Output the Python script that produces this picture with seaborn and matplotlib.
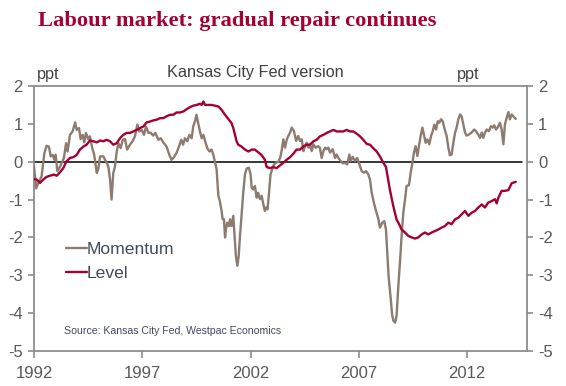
import matplotlib
matplotlib.use("Agg")
import matplotlib.pyplot as plt
import seaborn as sns
import pandas as pd

# Momentum (decimal year, ppt)
mom_t = [1992.0, 1992.1, 1992.2, 1992.35, 1992.48, 1992.58, 1992.69, 1992.77, 1992.86, 1992.94,
         1993.0, 1993.08, 1993.17, 1993.28, 1993.38, 1993.48, 1993.55, 1993.66, 1993.78, 1993.9,
         1993.97, 1994.08, 1994.15, 1994.25, 1994.32, 1994.4, 1994.5, 1994.58, 1994.69, 1994.78,
         1994.9, 1994.97, 1995.05, 1995.2, 1995.32, 1995.43, 1995.51, 1995.58, 1995.66, 1995.74,
         1995.82, 1995.9, 1996.0, 1996.1, 1996.2, 1996.3, 1996.43, 1996.55, 1996.66, 1996.77,
         1996.86, 1996.97, 1997.08, 1997.17, 1997.28, 1997.38, 1997.5, 1997.6, 1997.74, 1997.85,
         1997.97, 1998.12, 1998.25, 1998.35, 1998.46, 1998.58, 1998.69, 1998.8, 1998.88, 1998.97,
         1999.08, 1999.17, 1999.28, 1999.35, 1999.43, 1999.5, 1999.58, 1999.66, 1999.74, 1999.82,
         1999.9, 2000.0, 2000.1, 2000.2, 2000.28, 2000.35, 2000.43, 2000.51, 2000.58, 2000.66,
         2000.71, 2000.77, 2000.82, 2000.86, 2000.92, 2001.0, 2001.05, 2001.12, 2001.2, 2001.25,
         2001.32, 2001.39, 2001.45, 2001.51, 2001.59, 2001.66, 2001.74, 2001.82, 2001.92, 2002.0,
         2002.05, 2002.12, 2002.2, 2002.28, 2002.35, 2002.43, 2002.51, 2002.59, 2002.66, 2002.71,
         2002.78, 2002.85, 2002.92, 2003.0, 2003.08, 2003.17, 2003.28, 2003.36, 2003.43, 2003.51,
         2003.59, 2003.67, 2003.74, 2003.82, 2003.9, 2004.0, 2004.1, 2004.2, 2004.28, 2004.36,
         2004.44, 2004.51, 2004.59, 2004.67, 2004.74, 2004.82, 2004.9, 2005.0, 2005.13, 2005.2,
         2005.28, 2005.36, 2005.44, 2005.51, 2005.59, 2005.67, 2005.79, 2005.9, 2005.97, 2006.05,
         2006.16, 2006.25, 2006.36, 2006.46, 2006.56, 2006.62, 2006.71, 2006.82, 2006.92, 2007.02,
         2007.13, 2007.24, 2007.33, 2007.43, 2007.51, 2007.59, 2007.69, 2007.79, 2007.9, 2007.97,
         2008.08, 2008.17, 2008.25, 2008.31, 2008.37, 2008.47, 2008.53, 2008.59, 2008.67, 2008.74,
         2008.82, 2008.9, 2008.97, 2009.05, 2009.13, 2009.2, 2009.31, 2009.39, 2009.47, 2009.54,
         2009.62, 2009.7, 2009.77, 2009.85, 2009.93, 2010.0, 2010.08, 2010.16, 2010.25, 2010.33,
         2010.41, 2010.48, 2010.56, 2010.64, 2010.71, 2010.79, 2010.87, 2010.94, 2011.05, 2011.13,
         2011.2, 2011.28, 2011.36, 2011.44, 2011.51, 2011.59, 2011.67, 2011.74, 2011.82, 2011.9,
         2011.97, 2012.08, 2012.2, 2012.32, 2012.4, 2012.51, 2012.59, 2012.67, 2012.74, 2012.82,
         2012.9, 2013.0, 2013.1, 2013.18, 2013.25, 2013.33, 2013.4, 2013.51, 2013.59, 2013.67,
         2013.74, 2013.82, 2013.9, 2013.97, 2014.05, 2014.13, 2014.24]
mom_v = [-0.12, -0.70, -0.56, -0.39, 0.23, 0.42, 0.40, 0.14, 0.18, 0.05,
         0.18, -0.25, -0.17, -0.03, 0.10, 0.49, 0.27, 0.71, 0.80, 1.04,
         0.84, 0.89, 0.60, 0.71, 0.51, 0.76, 0.60, 0.67, 0.36, 0.18,
         -0.30, -0.19, 0.14, 0.14, 0.01, -0.12, -0.47, -1.00, -0.30, -0.12,
         0.27, 0.49, 0.36, 0.58, 0.60, 0.32, 0.45, 0.54, 0.67, 0.98,
         0.80, 0.84, 0.71, 0.93, 0.76, 0.77, 0.69, 0.76, 0.58, 0.62,
         0.51, 0.40, 0.18, 0.05, 0.12, 0.23, 0.40, 0.58, 0.45, 0.62,
         0.54, 0.71, 0.62, 0.93, 1.06, 1.24, 1.02, 0.80, 0.62, 0.71,
         0.54, 0.36, 0.27, 0.32, 0.18, 0.00, -0.20, -0.90, -1.04, -1.30,
         -1.52, -1.52, -2.00, -1.79, -1.61, -1.70, -1.52, -1.70, -1.43, -1.87,
         -2.49, -2.75, -2.49, -1.96, -1.35, -0.82, -0.33, -0.18, -0.16, -0.33,
         -0.69, -0.73, -0.64, -0.95, -0.82, -0.99, -0.90, -1.13, -1.30, -1.21,
         -1.26, -0.82, -0.33, -0.20, -0.07, -0.03, 0.00, 0.10, 0.28, 0.59,
         0.37, 0.59, 0.68, 0.77, 0.90, 0.81, 0.55, 0.68, 0.55, 0.59,
         0.28, 0.41, 0.50, 0.37, 0.46, 0.28, 0.46, 0.37, 0.41, 0.37,
         0.10, 0.28, 0.37, 0.33, 0.37, 0.24, 0.33, 0.10, 0.19, 0.10,
         0.02, -0.04, -0.03, -0.07, 0.19, 0.02, 0.13, 0.02, 0.10, -0.07,
         -0.25, -0.29, -0.25, -0.33, -0.47, -0.82, -1.08, -1.30, -1.52, -1.74,
         -1.61, -1.57, -1.79, -2.40, -3.03, -3.63, -4.03, -4.20, -4.25, -4.07,
         -3.28, -2.62, -1.96, -1.35, -0.99, -0.64, -0.62, -0.29, -0.03, 0.24,
         0.41, 0.15, 0.41, 0.68, 0.90, 0.72, 0.50, 0.59, 0.46, 0.68,
         0.81, 0.98, 0.85, 1.07, 1.03, 1.12, 1.07, 0.90, 0.68, 0.37,
         0.17, 0.19, 0.50, 0.77, 0.90, 1.12, 1.25, 1.20, 0.98, 0.77,
         0.69, 0.72, 0.77, 0.85, 0.81, 0.72, 0.63, 0.77, 0.63, 0.77,
         0.85, 0.81, 0.94, 0.90, 0.96, 0.85, 0.90, 1.03, 0.85, 0.46,
         0.98, 1.16, 1.31, 1.12, 1.25, 1.20, 1.13]

# Level (decimal year, ppt)
lev_t = [1992.0, 1992.12, 1992.28, 1992.43, 1992.58, 1992.74, 1992.9, 1993.05, 1993.2, 1993.35,
         1993.5, 1993.66, 1993.82, 1993.97, 1994.12, 1994.28, 1994.43, 1994.58, 1994.74, 1994.9,
         1995.05, 1995.2, 1995.35, 1995.51, 1995.66, 1995.82, 1995.97, 1996.12, 1996.28, 1996.43,
         1996.58, 1996.74, 1996.9, 1997.05, 1997.2, 1997.35, 1997.5, 1997.66, 1997.82, 1997.97,
         1998.12, 1998.28, 1998.43, 1998.58, 1998.74, 1998.9, 1999.05, 1999.2, 1999.35, 1999.51,
         1999.66, 1999.74, 1999.82, 1999.9, 2000.05, 2000.2, 2000.35, 2000.51, 2000.66, 2000.82,
         2000.97, 2001.12, 2001.2, 2001.28, 2001.35, 2001.43, 2001.58, 2001.74, 2001.9, 2002.05,
         2002.2, 2002.35, 2002.5, 2002.66, 2002.74, 2002.9, 2003.05, 2003.2, 2003.35, 2003.51,
         2003.66, 2003.82, 2003.97, 2004.12, 2004.28, 2004.43, 2004.59, 2004.74, 2004.9, 2005.05,
         2005.2, 2005.36, 2005.51, 2005.67, 2005.82, 2005.97, 2006.13, 2006.28, 2006.43, 2006.59,
         2006.74, 2006.9, 2007.05, 2007.2, 2007.36, 2007.51, 2007.66, 2007.82, 2007.97, 2008.12,
         2008.25, 2008.35, 2008.43, 2008.59, 2008.74, 2008.82, 2008.97, 2009.13, 2009.28, 2009.44,
         2009.59, 2009.74, 2009.9, 2010.05, 2010.2, 2010.36, 2010.51, 2010.67, 2010.82, 2010.97,
         2011.13, 2011.28, 2011.44, 2011.59, 2011.74, 2011.9, 2012.05, 2012.2, 2012.36, 2012.51,
         2012.67, 2012.82, 2012.97, 2013.13, 2013.28, 2013.36, 2013.44, 2013.59, 2013.74, 2013.9,
         2014.05, 2014.24]
lev_v = [-0.46, -0.47, -0.56, -0.47, -0.40, -0.37, -0.34, -0.37, -0.28, -0.17,
         0.01, 0.10, 0.12, 0.18, 0.32, 0.40, 0.45, 0.56, 0.54, 0.51,
         0.56, 0.54, 0.58, 0.54, 0.45, 0.49, 0.62, 0.71, 0.76, 0.76,
         0.80, 0.84, 0.89, 0.93, 1.04, 1.06, 1.09, 1.11, 1.15, 1.15,
         1.20, 1.24, 1.24, 1.30, 1.30, 1.33, 1.39, 1.44, 1.48, 1.50,
         1.53, 1.50, 1.59, 1.50, 1.50, 1.50, 1.48, 1.46, 1.37, 1.24,
         1.13, 1.02, 0.89, 0.71, 0.54, 0.45, 0.40, 0.32, 0.27, 0.32,
         0.32, 0.25, 0.18, 0.05, -0.14, -0.17, -0.14, -0.17, -0.10, -0.03,
         0.05, 0.12, 0.21, 0.32, 0.32, 0.40, 0.45, 0.45, 0.54, 0.58,
         0.67, 0.71, 0.76, 0.80, 0.84, 0.80, 0.80, 0.80, 0.84, 0.80,
         0.80, 0.74, 0.67, 0.58, 0.47, 0.45, 0.36, 0.27, 0.14, -0.02,
         -0.14, -0.47, -0.74, -1.18, -1.53, -1.61, -1.79, -1.87, -1.96, -2.00,
         -2.03, -2.00, -1.92, -1.87, -1.92, -1.87, -1.83, -1.79, -1.74, -1.70,
         -1.61, -1.65, -1.52, -1.48, -1.39, -1.30, -1.43, -1.35, -1.30, -1.21,
         -1.13, -1.21, -1.08, -1.04, -0.99, -1.10, -0.95, -0.77, -0.77, -0.75,
         -0.57, -0.53]

yticks = [2, 1, 0, -1, -2, -3, -4, -5]
xticks = [1992, 1997, 2002, 2007, 2012]

C_MOM = "#8c7b6e"
C_LEV = "#a50034"
C_TXT = "#595959"

sns.set_style("white")
plt.rcParams['font.family'] = ['Liberation Sans', 'DejaVu Sans']

fig = plt.figure(figsize=(5.66, 3.86), dpi=100)
ax = fig.add_axes([34/566, 1-351/386, (527-34)/566, (351-86)/386])

df_m = pd.DataFrame({"t": mom_t, "v": mom_v})
df_l = pd.DataFrame({"t": lev_t, "v": lev_v})
ax.axhline(0, color="black", lw=1.1, xmin=0, xmax=0.99, zorder=1)
sns.lineplot(data=df_m, x="t", y="v", ax=ax, color=C_MOM, lw=1.7, label="Momentum", zorder=3)
sns.lineplot(data=df_l, x="t", y="v", ax=ax, color=C_LEV, lw=1.7, label="Level", zorder=4)

ax.set_xlim(1992, 2014.76)
ax.set_ylim(-5, 2)
ax.set_xticks(xticks)
ax.set_xticklabels([str(x) for x in xticks])
ax.set_yticks(yticks)
ax.set_yticklabels([str(y) for y in yticks])
ax.set_xlabel("")
ax.set_ylabel("")

for s in ax.spines.values():
    s.set_visible(True)
    s.set_color("#8c8c8c")
    s.set_linewidth(1.3)

ax.tick_params(axis="x", direction="out", length=5, width=1.2, color="#8c8c8c",
               labelsize=12, labelcolor=C_TXT, pad=6, bottom=True)
ax.tick_params(axis="y", direction="out", length=4, width=1.2, color="#8c8c8c",
               labelsize=12, labelcolor=C_TXT, left=True, right=True,
               labelleft=True, labelright=True, pad=4)

leg = ax.legend(loc="upper left", bbox_to_anchor=(0.05, 0.44), frameon=False,
                fontsize=12.6, handlelength=1.2, handletextpad=0.0,
                labelspacing=0.52, borderaxespad=0)
for t in leg.get_texts():
    t.set_color("#404a5a")

ax.text(0.061, 0.077, "Source: Kansas City Fed, Westpac Economics", transform=ax.transAxes,
        fontsize=7.6, color="#404a5f", va="center", ha="left")

fig.text(38/566, 1-21/386, "Labour market: gradual repair continues",
         family=["Liberation Serif", "DejaVu Serif"], fontweight="bold",
         fontsize=16.2, color=C_LEV, ha="left", va="center")
fig.text(255/566, 1-72/386, "Kansas City Fed version", fontsize=11.7,
         color="#404040", ha="center", va="center")
fig.text(37/566, 1-75/386, "ppt", fontsize=11.7, color="#404040", ha="left", va="center")
fig.text(479/566, 1-75/386, "ppt", fontsize=11.7, color="#404040", ha="right", va="center")

fig.savefig("out.png", dpi=100)
